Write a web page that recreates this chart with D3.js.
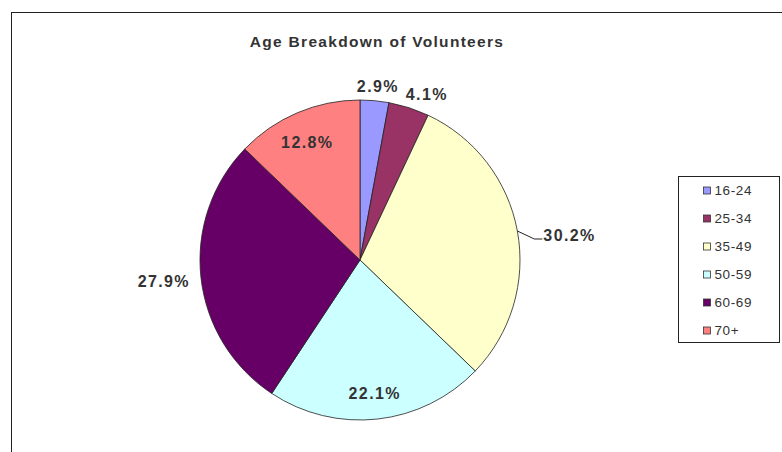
<!DOCTYPE html>
<html>
<head>
<meta charset="utf-8">
<script src="https://cdn.jsdelivr.net/npm/d3@7"></script>
<style>
  html, body { margin: 0; padding: 0; background: #fff; }
  svg { display: block; font-family: "Liberation Sans", Arial, sans-serif; }
</style>
</head>
<body>
<svg id="chart" width="782" height="452"></svg>
<script>
// Age groups and their share of volunteers (percent)
const ageGroups = ["16-24", "25-34", "35-49", "50-59", "60-69", "70+"];
const shares = [2.9, 4.1, 30.2, 22.1, 27.9, 12.8];
const sliceColors = ["#9999FF", "#993366", "#FFFFCC", "#CCFFFF", "#660066", "#FF8080"];

// Label placement: distance from centre as a multiple of the radius,
// plus a small nudge to keep neighbouring labels apart
const labelRadius = [1.09, 1.12, null, 0.84, 1.24, 0.81];
const labelNudge = [[2, 0], [12, 5], [0, 0], [0, 0], [1, -1], [-2, 1]];

const svg = d3.select("#chart");
const W = 782, H = 452;

// Outer frame (runs off the right and bottom edges)
svg.append("rect")
  .attr("x", 11.5).attr("y", 12.5)
  .attr("width", W).attr("height", H)
  .attr("fill", "#fff").attr("stroke", "#222").attr("stroke-width", 1);

svg.append("text")
  .attr("x", 377).attr("y", 47)
  .attr("text-anchor", "middle")
  .attr("font-size", 15.5).attr("font-weight", "bold")
  .attr("letter-spacing", 1.3)
  .attr("fill", "#333")
  .text("Age Breakdown of Volunteers");

const cx = 360, cy = 260, r = 160;
const g = svg.append("g").attr("transform", `translate(${cx},${cy})`);

const pie = d3.pie().sort(null).value(d => d.v);
const data = pie(ageGroups.map((k, i) => ({ k, v: shares[i], i })));
const arc = d3.arc().innerRadius(0).outerRadius(r);

g.selectAll("path.slice")
  .data(data)
  .join("path")
  .attr("class", "slice")
  .attr("d", arc)
  .attr("fill", d => sliceColors[d.data.i])
  .attr("stroke", "#222")
  .attr("stroke-width", 0.8);

const fmt = v => d3.format(".1f")(v) + "%";
const mid = d => (d.startAngle + d.endAngle) / 2;

function valueLabel(sel) {
  return sel.attr("font-size", 16).attr("font-weight", "bold")
    .attr("letter-spacing", 1.4)
    .attr("fill", "#333");
}

data.forEach(d => {
  const i = d.data.i;
  const a = mid(d);
  if (labelRadius[i] !== null) {
    const lr = r * labelRadius[i];
    g.append("text")
      .attr("x", Math.sin(a) * lr + labelNudge[i][0])
      .attr("y", -Math.cos(a) * lr + labelNudge[i][1])
      .attr("text-anchor", "middle")
      .attr("dy", "0.36em")
      .call(valueLabel)
      .text(fmt(d.data.v));
  } else {
    // Label pulled out to the right with a leader line
    const ex = Math.sin(a) * r, ey = -Math.cos(a) * r;
    const kx = ex + 17, ky = ey + 8;
    g.append("polyline")
      .attr("points", `${ex},${ey} ${kx},${ky} ${kx + 8},${ky}`)
      .attr("fill", "none").attr("stroke", "#222").attr("stroke-width", 1);
    g.append("text")
      .attr("x", kx + 9).attr("y", ky)
      .attr("dy", "0.1em")
      .call(valueLabel)
      .text(fmt(d.data.v));
  }
});

// Legend
const lg = svg.append("g").attr("transform", "translate(678.5,176.5)");
lg.append("rect")
  .attr("width", 101).attr("height", 166)
  .attr("fill", "#fff").attr("stroke", "#222").attr("stroke-width", 1);
const ly = d3.scalePoint().domain(ageGroups).range([14, 154]);
const items = lg.selectAll("g.item").data(ageGroups).join("g")
  .attr("class", "item")
  .attr("transform", d => `translate(0,${ly(d)})`);
items.append("rect")
  .attr("x", 25).attr("y", -3.5)
  .attr("width", 7).attr("height", 7)
  .attr("fill", (d, i) => sliceColors[i])
  .attr("stroke", "#333").attr("stroke-width", 0.8);
items.append("text")
  .attr("x", 36).attr("dy", "0.36em")
  .attr("font-size", 13.5).attr("letter-spacing", 0.6)
  .attr("fill", "#333")
  .text(d => d);
</script>
</body>
</html>
